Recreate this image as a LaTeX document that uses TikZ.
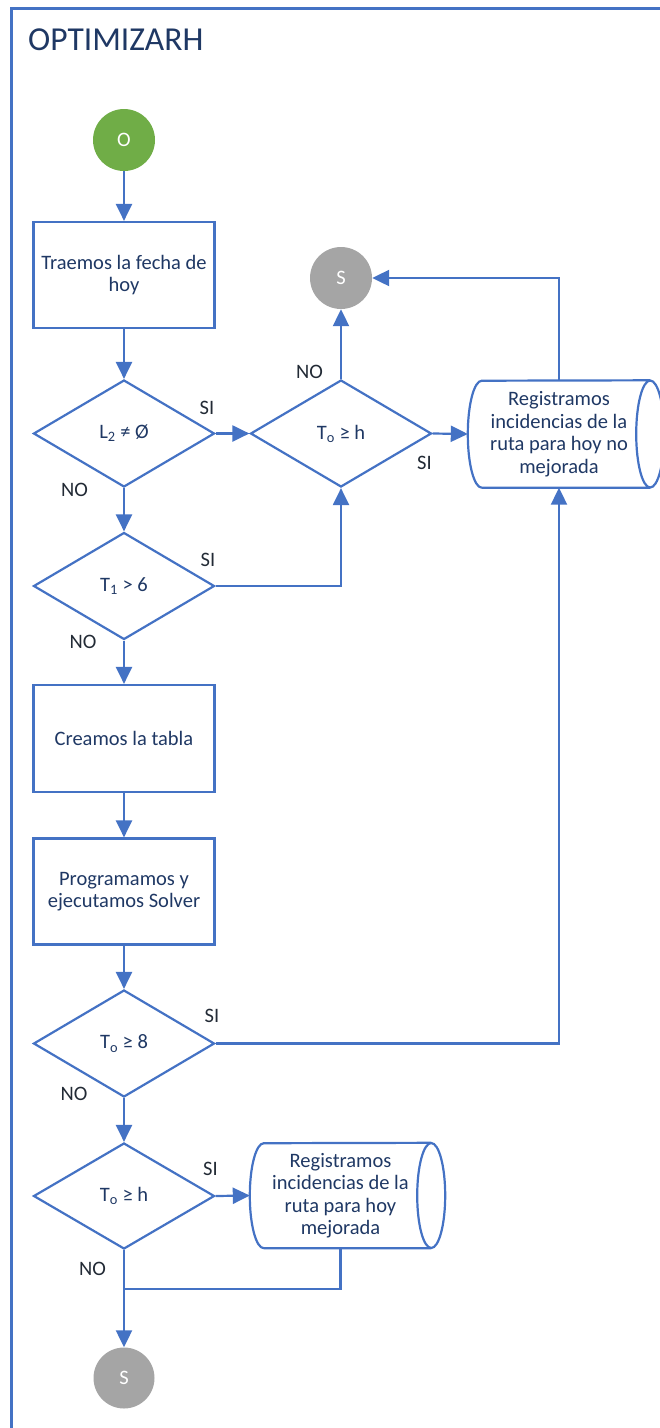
\documentclass[tikz,border=0pt]{standalone}
\usepackage{fontspec}
\setmainfont{Carlito}
\usetikzlibrary{arrows.meta,shapes.geometric}
\definecolor{lineblue}{HTML}{4472C4}
\definecolor{boxtext}{HTML}{1F3864}
\definecolor{labeltext}{HTML}{222A35}
\definecolor{startgreen}{HTML}{70AD47}
\definecolor{endgray}{HTML}{A5A5A5}
\begin{document}
\begin{tikzpicture}[x=1pt,y=1pt,
  every node/.style={font=\fontsize{20.5}{22.5}\selectfont},
  conn/.style={draw=lineblue, line width=2.2pt},
  arr/.style={conn, -{Triangle[length=17pt,width=16pt]}},
  procbox/.style={conn, rectangle, minimum width=181pt, minimum height=106pt,
    align=center, text=boxtext, inner sep=0pt},
  decision/.style={conn, diamond, minimum width=181pt, minimum height=107pt,
    inner sep=0pt, text=boxtext},
  terminal/.style={circle, minimum size=62pt, inner sep=0pt, text=white},
  storetext/.style={rectangle, minimum width=182pt, minimum height=106pt,
    inner sep=0pt, align=center, text=boxtext},
  lbl/.style={inner sep=0pt, text=labeltext}]

\useasboundingbox (0,0) rectangle (660,-1428);
\clip (0,0) rectangle (660,-1428);

% swimlane frame and title
\draw[draw=lineblue, line width=2.5pt] (11.5,-1440) -- (11.5,-8.7) -- (680,-8.7);
\node[anchor=base west, font=\fontsize{33.5}{40}\selectfont, text=boxtext, inner sep=0pt]
  (title) at (28,-50) {OPTIMIZARH};

% main column
\node[terminal, fill=startgreen] (o) at (124,-140) {O};
\node[procbox] (b1) at (124,-275) {Traemos la fecha de\\hoy};
\node[decision] (d1) at (124,-433.5) {L\textsubscript{2} ≠ Ø};
\node[decision] (d2) at (124,-586) {T\textsubscript{1} > 6};
\node[procbox, minimum height=107pt] (b2) at (124,-738.5) {Creamos la tabla};
\node[procbox] (b3) at (124,-891.5) {Programamos y\\ejecutamos Solver};
\node[decision] (d4) at (124,-1043.5) {T\textsubscript{o} ≥ 8};
\node[decision, minimum height=106pt] (d5) at (124,-1196) {T\textsubscript{o} ≥ h};
\node[terminal, fill=endgray, minimum size=61pt] (s2) at (124,-1378) {S};

% upper right branch
\node[decision] (d3) at (341,-433.5) {T\textsubscript{o} ≥ h};
\node[terminal, fill=endgray] (s1) at (341,-278) {S};

% stored data: not improved
\node[storetext, minimum height=107pt] (r1) at (559,-434)
  {Registramos\\incidencias de la\\ruta para hoy no\\mejorada};
\draw[conn] ([xshift=14pt]r1.south west)
  arc[start angle=270, end angle=90, x radius=14pt, y radius=53.5pt]
  -- (r1.north east)
  (r1.south east) -- ([xshift=14pt]r1.south west)
  (r1.east) ellipse[x radius=14pt, y radius=53.5pt];

% stored data: improved
\node[storetext, minimum width=181pt, minimum height=105pt] (r2) at (340.5,-1195.5)
  {Registramos\\incidencias de la\\ruta para hoy\\mejorada};
\draw[conn] ([xshift=14pt]r2.south west)
  arc[start angle=270, end angle=90, x radius=14pt, y radius=52.5pt]
  -- (r2.north east)
  (r2.south east) -- ([xshift=14pt]r2.south west)
  (r2.east) ellipse[x radius=14pt, y radius=52.5pt];

% connectors
\draw[arr] (o) -- (b1);
\draw[arr] (b1) -- (d1);
\draw[arr] (d1) -- (d2);
\draw[arr] (d1.east) -- (d3.west);
\draw[arr] (d2.east) -| (d3.south);
\draw[arr] (d3.north) -- (s1);
\draw[arr] (d3.east) -- (r1.west);
\draw[arr] (r1.north) |- (s1.east);
\draw[arr] (d2) -- (b2);
\draw[arr] (b2) -- (b3);
\draw[arr] (b3) -- (d4);
\draw[arr] (d4.east) -| (r1.south);
\draw[arr] (d4) -- (d5);
\draw[arr] (d5.east) -- (r2.west);
\draw[arr] (d5) -- (s2);
\coordinate (j) at (124,-1289);
\draw[conn] (r2.south) |- (j);

% branch labels
\node[lbl] (d1si) at (207,-407.5) {SI};
\node[lbl] (d1no) at (74.5,-490) {NO};
\node[lbl] (d2si) at (208,-559.5) {SI};
\node[lbl] (d2no) at (83,-642) {NO};
\node[lbl] (d3no) at (309.5,-372) {NO};
\node[lbl] (d3si) at (424.5,-463) {SI};
\node[lbl] (d4si) at (212,-1016) {SI};
\node[lbl] (d4no) at (74,-1094) {NO};
\node[lbl] (d5si) at (210.5,-1169) {SI};
\node[lbl] (d5no) at (92.5,-1269) {NO};
\end{tikzpicture}
\end{document}
